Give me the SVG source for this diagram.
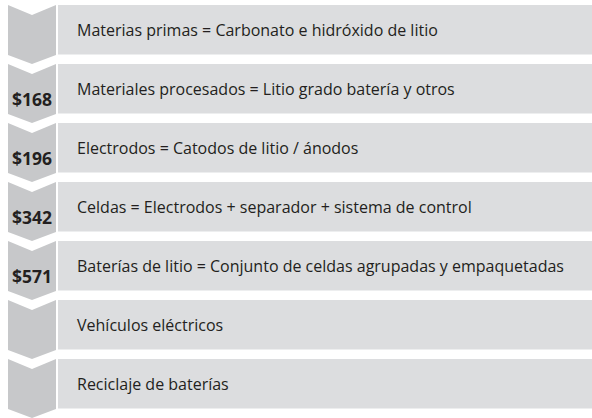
<svg xmlns="http://www.w3.org/2000/svg" width="592" height="418" viewBox="0 0 592 418">
<style>
.bar{fill:#dcdddf}
.chev{fill:#c7c8ca}
.lbl{font-family:"Open Sans","Noto Sans",sans-serif;font-size:16px;fill:#231f20}
.price{font-family:"Open Sans","Noto Sans",sans-serif;font-size:17.5px;font-weight:bold;fill:#231f20;text-anchor:middle}
</style>
<rect width="592" height="418" fill="#ffffff"/>
<g id="connectors"></g>
<g id="n0">
<polygon class="chev" points="8,5 32,15 56,5 56,55 32,64 8,55"/>
<rect class="bar" x="58" y="5" width="534" height="49.5"/>
<text class="lbl" x="77" y="35.5">Materias primas = Carbonato e hidróxido de litio</text>
</g>
<g id="n1">
<polygon class="chev" points="8,64 32,74 56,64 56,114 32,123 8,114"/>
<rect class="bar" x="58" y="64" width="534" height="49.5"/>
<text class="lbl" x="77" y="94.5">Materiales procesados = Litio grado batería y otros</text>
<text class="price" x="32" y="105.5">$168</text>
</g>
<g id="n2">
<polygon class="chev" points="8,123 32,133 56,123 56,173 32,182 8,173"/>
<rect class="bar" x="58" y="123" width="534" height="49.5"/>
<text class="lbl" x="77" y="153.5">Electrodos = Catodos de litio / ánodos</text>
<text class="price" x="32" y="164.5">$196</text>
</g>
<g id="n3">
<polygon class="chev" points="8,182 32,192 56,182 56,232 32,241 8,232"/>
<rect class="bar" x="58" y="182" width="534" height="49.5"/>
<text class="lbl" x="77" y="212.5">Celdas = Electrodos + separador + sistema de control</text>
<text class="price" x="32" y="223.5">$342</text>
</g>
<g id="n4">
<polygon class="chev" points="8,241 32,251 56,241 56,291 32,300 8,291"/>
<rect class="bar" x="58" y="241" width="534" height="49.5"/>
<text class="lbl" x="77" y="271.5">Baterías de litio = Conjunto de celdas agrupadas y empaquetadas</text>
<text class="price" x="32" y="282.5">$571</text>
</g>
<g id="n5">
<polygon class="chev" points="8,300 32,310 56,300 56,350 32,359 8,350"/>
<rect class="bar" x="58" y="300" width="534" height="49.5"/>
<text class="lbl" x="77" y="330.5">Vehículos eléctricos</text>
</g>
<g id="n6">
<polygon class="chev" points="8,359 32,369 56,359 56,409 32,418 8,409"/>
<rect class="bar" x="58" y="359" width="534" height="49.5"/>
<text class="lbl" x="77" y="389.5">Reciclaje de baterías</text>
</g>
</svg>
